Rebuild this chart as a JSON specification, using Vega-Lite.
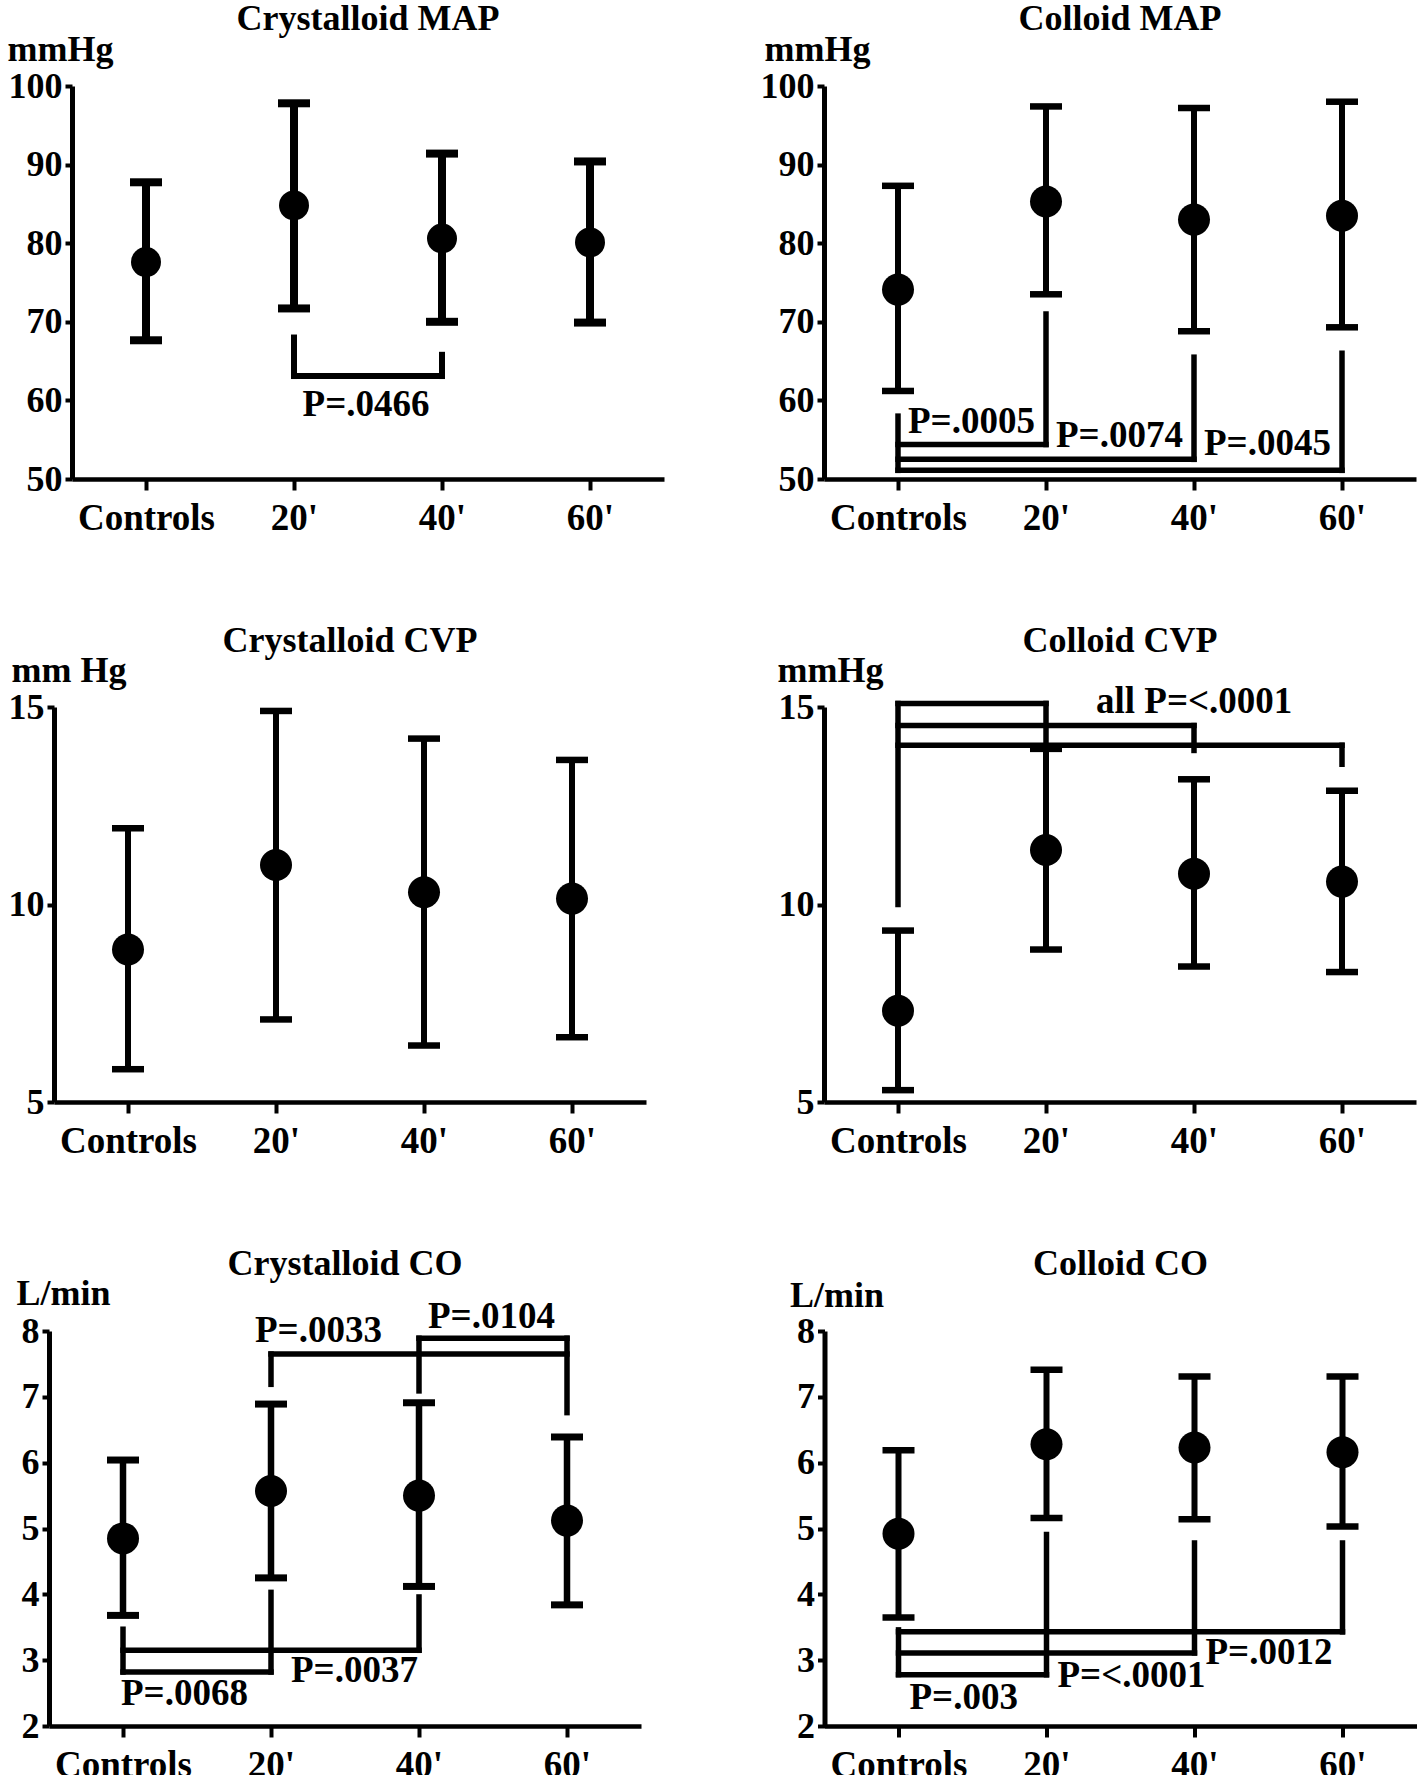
{
  "$schema": "https://vega.github.io/schema/vega-lite/v6.json",
  "padding": 0,
  "background": "white",
  "datasets": {
    "A_pts": [{"t":"Controls","m":77.6,"lo":67.65,"hi":87.75},{"t":"20'","m":84.8,"lo":71.7,"hi":97.8},{"t":"40'","m":80.6,"lo":70.0,"hi":91.4},{"t":"60'","m":80.1,"lo":69.9,"hi":90.4}],
    "A_seg": [{"t":"20'","t2":"20'","y":68.0,"y2":63.1},{"t":"20'","t2":"40'","y":63.1,"y2":63.1},{"t":"40'","t2":"40'","y":65.8,"y2":63.1}],
    "A_lab": [{"t":"20'","y":59.4,"txt":"P=.0466"}],
    "B_pts": [{"t":"Controls","m":74.1,"lo":61.2,"hi":87.3},{"t":"20'","m":85.3,"lo":73.5,"hi":97.4},{"t":"40'","m":83.0,"lo":68.8,"hi":97.2},{"t":"60'","m":83.5,"lo":69.3,"hi":98.0}],
    "B_seg": [{"t":"Controls","t2":"Controls","y":58.0,"y2":51.1},{"t":"20'","t2":"20'","y":71.0,"y2":54.4},{"t":"Controls","t2":"20'","y":54.4,"y2":54.4},{"t":"40'","t2":"40'","y":65.5,"y2":52.5},{"t":"Controls","t2":"40'","y":52.5,"y2":52.5},{"t":"60'","t2":"60'","y":66.0,"y2":51.1},{"t":"Controls","t2":"60'","y":51.1,"y2":51.1}],
    "B_lab": [{"t":"Controls","y":57.3,"txt":"P=.0005"},{"t":"20'","y":55.5,"txt":"P=.0074"},{"t":"40'","y":54.4,"txt":"P=.0045"}],
    "C_pts": [{"t":"Controls","m":8.86,"lo":5.83,"hi":11.93},{"t":"20'","m":11.0,"lo":7.09,"hi":14.9},{"t":"40'","m":10.31,"lo":6.43,"hi":14.2},{"t":"60'","m":10.15,"lo":6.64,"hi":13.66}],
    "D_pts": [{"t":"Controls","m":7.31,"lo":5.3,"hi":9.34},{"t":"20'","m":11.38,"lo":8.86,"hi":13.94},{"t":"40'","m":10.78,"lo":8.43,"hi":13.17},{"t":"60'","m":10.58,"lo":8.29,"hi":12.88}],
    "D_seg": [{"t":"Controls","t2":"Controls","y":10.0,"y2":15.09},{"t":"Controls","t2":"20'","y":15.09,"y2":15.09},{"t":"20'","t2":"20'","y":15.09,"y2":13.94},{"t":"Controls","t2":"40'","y":14.53,"y2":14.53},{"t":"40'","t2":"40'","y":14.53,"y2":13.9},{"t":"Controls","t2":"60'","y":14.03,"y2":14.03},{"t":"60'","t2":"60'","y":14.03,"y2":13.55}],
    "D_lab": [{"t":"20'","y":15.12,"txt":"all P=<.0001"}],
    "E_pts": [{"t":"Controls","m":4.85,"lo":3.68,"hi":6.04},{"t":"20'","m":5.57,"lo":4.25,"hi":6.89},{"t":"40'","m":5.5,"lo":4.12,"hi":6.91},{"t":"60'","m":5.12,"lo":3.84,"hi":6.39}],
    "E_seg": [{"t":"Controls","t2":"Controls","y":3.47,"y2":2.82},{"t":"Controls","t2":"20'","y":2.82,"y2":2.82},{"t":"20'","t2":"20'","y":2.82,"y2":4.03},{"t":"Controls","t2":"40'","y":3.15,"y2":3.15},{"t":"40'","t2":"40'","y":3.15,"y2":3.96},{"t":"20'","t2":"20'","y":7.19,"y2":7.65},{"t":"20'","t2":"60'","y":7.65,"y2":7.65},{"t":"40'","t2":"40'","y":7.09,"y2":7.89},{"t":"40'","t2":"60'","y":7.89,"y2":7.89},{"t":"60'","t2":"60'","y":6.76,"y2":7.89}],
    "E_lab": [{"k":1,"t":"Controls","y":2.49,"txt":"P=.0068"},{"k":2,"t":"20'","y":2.84,"txt":"P=.0037"},{"k":3,"t":"20'","y":8.0,"txt":"P=.0033"},{"k":4,"t":"40'","y":8.22,"txt":"P=.0104"}],
    "F_pts": [{"t":"Controls","m":4.92,"lo":3.65,"hi":6.19},{"t":"20'","m":6.28,"lo":5.16,"hi":7.41},{"t":"40'","m":6.23,"lo":5.14,"hi":7.31},{"t":"60'","m":6.16,"lo":5.03,"hi":7.31}],
    "F_seg": [{"t":"Controls","t2":"Controls","y":3.46,"y2":2.78},{"t":"Controls","t2":"20'","y":2.78,"y2":2.78},{"t":"20'","t2":"20'","y":2.78,"y2":4.91},{"t":"Controls","t2":"40'","y":3.11,"y2":3.11},{"t":"40'","t2":"40'","y":3.11,"y2":4.78},{"t":"Controls","t2":"60'","y":3.43,"y2":3.43},{"t":"60'","t2":"60'","y":3.43,"y2":4.78}],
    "F_lab": [{"t":"Controls","y":2.43,"txt":"P=.003"},{"t":"20'","y":2.76,"txt":"P=<.0001"},{"t":"40'","y":3.11,"txt":"P=.0012"}]
  },
  "config": {
    "view": {"stroke": null},
    "font": "Liberation Serif",
    "axis": {"labelFont": "Liberation Serif", "labelFontWeight": "bold", "labelColor": "black", "domainColor": "black", "tickColor": "black", "grid": false, "titleColor": "black", "titleFont": "Liberation Serif", "titleFontWeight": "bold", "titleFontSize": 36},
    "title": {"font": "Liberation Serif", "fontWeight": "bold", "color": "black", "fontSize": 36, "frame": "group", "anchor": "middle"},
    "text": {"font": "Liberation Serif", "fontWeight": "bold", "fontSize": 37, "color": "black", "baseline": "middle"}
  },
  "concat": [
    {
      "concat": [
        {
          "concat": [
            {"width": 1, "height": 1, "data": {"values": []}, "mark": "point"},
            {
              "width": 592, "height": 393,
              "title": {"text": "Crystalloid MAP", "offset": -6.5},
              "encoding": {"x": {"field": "t", "type": "nominal", "sort": ["Controls","20'","40'","60'"], "scale": {"type": "point", "padding": 0.5, "domain": ["Controls","20'","40'","60'"]}, "axis": {"title": null, "labelAngle": 0, "tickSize": 11, "tickWidth": 4, "labelPadding": 10, "labelFontSize": 37, "domainWidth": 4.5}}},
              "layer": [
                {"data": {"name": "A_pts"}, "mark": {"type": "rule", "strokeWidth": 8, "color": "black"}, "encoding": {"y": {"field": "lo", "type": "quantitative", "scale": {"domain": [50,100], "nice": false, "zero": false}, "axis": {"title": "mmHg", "titleAngle": 0, "titleAlign": "left", "titleBaseline": "middle", "titleX": -65, "titleY": -37, "values": [50,60,70,80,90,100], "format": "d", "tickSize": 7, "tickWidth": 4, "labelPadding": 3, "labelFontSize": 36, "domainWidth": 5, "minExtent": 71}}, "y2": {"field": "hi"}}},
                {"data": {"name": "A_pts"}, "mark": {"type": "tick", "orient": "horizontal", "size": 32, "thickness": 8, "color": "black", "opacity": 1}, "encoding": {"y": {"field": "lo", "type": "quantitative"}}},
                {"data": {"name": "A_pts"}, "mark": {"type": "tick", "orient": "horizontal", "size": 32, "thickness": 8, "color": "black", "opacity": 1}, "encoding": {"y": {"field": "hi", "type": "quantitative"}}},
                {"data": {"name": "A_pts"}, "mark": {"type": "point", "shape": "circle", "filled": true, "size": 900, "color": "black", "opacity": 1}, "encoding": {"y": {"field": "m", "type": "quantitative"}}},
                {"data": {"name": "A_seg"}, "mark": {"type": "rule", "strokeWidth": 6, "strokeCap": "square", "color": "black"}, "encoding": {"x2": {"field": "t2"}, "y": {"field": "y", "type": "quantitative"}, "y2": {"field": "y2"}}},
                {"data": {"name": "A_lab"}, "mark": {"type": "text", "align": "center", "dx": 72}, "encoding": {"y": {"field": "y", "type": "quantitative"}, "text": {"field": "txt"}}}
              ]
            }
          ],
          "columns": 2, "spacing": 0, "align": "none"
        },
        {
          "width": 592, "height": 393,
          "title": {"text": "Colloid MAP", "offset": -6.5},
          "encoding": {"x": {"field": "t", "type": "nominal", "sort": ["Controls","20'","40'","60'"], "scale": {"type": "point", "padding": 0.5, "domain": ["Controls","20'","40'","60'"]}, "axis": {"title": null, "labelAngle": 0, "tickSize": 11, "tickWidth": 4, "labelPadding": 10, "labelFontSize": 37, "domainWidth": 4.5}}},
          "layer": [
            {"data": {"name": "B_pts"}, "mark": {"type": "rule", "strokeWidth": 6, "color": "black"}, "encoding": {"y": {"field": "lo", "type": "quantitative", "scale": {"domain": [50,100], "nice": false, "zero": false}, "axis": {"title": "mmHg", "titleAngle": 0, "titleAlign": "left", "titleBaseline": "middle", "titleX": -60, "titleY": -37, "values": [50,60,70,80,90,100], "format": "d", "tickSize": 7, "tickWidth": 4, "labelPadding": 3, "labelFontSize": 36, "domainWidth": 5, "minExtent": 73}}, "y2": {"field": "hi"}}},
            {"data": {"name": "B_pts"}, "mark": {"type": "tick", "orient": "horizontal", "size": 32, "thickness": 6.5, "color": "black", "opacity": 1}, "encoding": {"y": {"field": "lo", "type": "quantitative"}}},
            {"data": {"name": "B_pts"}, "mark": {"type": "tick", "orient": "horizontal", "size": 32, "thickness": 6.5, "color": "black", "opacity": 1}, "encoding": {"y": {"field": "hi", "type": "quantitative"}}},
            {"data": {"name": "B_pts"}, "mark": {"type": "point", "shape": "circle", "filled": true, "size": 1024, "color": "black", "opacity": 1}, "encoding": {"y": {"field": "m", "type": "quantitative"}}},
            {"data": {"name": "B_seg"}, "mark": {"type": "rule", "strokeWidth": 5.5, "strokeCap": "square", "color": "black"}, "encoding": {"x2": {"field": "t2"}, "y": {"field": "y", "type": "quantitative"}, "y2": {"field": "y2"}}},
            {"data": {"name": "B_lab"}, "mark": {"type": "text", "align": "left", "dx": 10}, "encoding": {"y": {"field": "y", "type": "quantitative"}, "text": {"field": "txt"}}}
          ]
        }
      ],
      "columns": 2, "spacing": 87, "align": "none"
    },
    {
      "concat": [
        {
          "concat": [
            {"width": 1, "height": 1, "data": {"values": []}, "mark": "point"},
            {
              "width": 592, "height": 395,
              "title": {"text": "Crystalloid CVP", "offset": -7.5},
              "encoding": {"x": {"field": "t", "type": "nominal", "sort": ["Controls","20'","40'","60'"], "scale": {"type": "point", "padding": 0.5, "domain": ["Controls","20'","40'","60'"]}, "axis": {"title": null, "labelAngle": 0, "tickSize": 11, "tickWidth": 4, "labelPadding": 10, "labelFontSize": 37, "domainWidth": 4.5}}},
              "layer": [
                {"data": {"name": "C_pts"}, "mark": {"type": "rule", "strokeWidth": 6, "color": "black"}, "encoding": {"y": {"field": "lo", "type": "quantitative", "scale": {"domain": [5,15], "nice": false, "zero": false}, "axis": {"title": "mm Hg", "titleAngle": 0, "titleAlign": "left", "titleBaseline": "middle", "titleX": -43, "titleY": -37, "values": [5,10,15], "format": "d", "tickSize": 7, "tickWidth": 4, "labelPadding": 3, "labelFontSize": 36, "domainWidth": 5, "minExtent": 53}}, "y2": {"field": "hi"}}},
                {"data": {"name": "C_pts"}, "mark": {"type": "tick", "orient": "horizontal", "size": 32, "thickness": 6.5, "color": "black", "opacity": 1}, "encoding": {"y": {"field": "lo", "type": "quantitative"}}},
                {"data": {"name": "C_pts"}, "mark": {"type": "tick", "orient": "horizontal", "size": 32, "thickness": 6.5, "color": "black", "opacity": 1}, "encoding": {"y": {"field": "hi", "type": "quantitative"}}},
                {"data": {"name": "C_pts"}, "mark": {"type": "point", "shape": "circle", "filled": true, "size": 1024, "color": "black", "opacity": 1}, "encoding": {"y": {"field": "m", "type": "quantitative"}}}
              ]
            }
          ],
          "columns": 2, "spacing": 0, "align": "none"
        },
        {
          "width": 592, "height": 395,
          "title": {"text": "Colloid CVP", "offset": -7.5},
          "encoding": {"x": {"field": "t", "type": "nominal", "sort": ["Controls","20'","40'","60'"], "scale": {"type": "point", "padding": 0.5, "domain": ["Controls","20'","40'","60'"]}, "axis": {"title": null, "labelAngle": 0, "tickSize": 11, "tickWidth": 4, "labelPadding": 10, "labelFontSize": 37, "domainWidth": 4.5}}},
          "layer": [
            {"data": {"name": "D_pts"}, "mark": {"type": "rule", "strokeWidth": 6, "color": "black"}, "encoding": {"y": {"field": "lo", "type": "quantitative", "scale": {"domain": [5,15], "nice": false, "zero": false}, "axis": {"title": "mmHg", "titleAngle": 0, "titleAlign": "left", "titleBaseline": "middle", "titleX": -47, "titleY": -37, "values": [5,10,15], "format": "d", "tickSize": 7, "tickWidth": 4, "labelPadding": 3, "labelFontSize": 36, "domainWidth": 5, "minExtent": 73}}, "y2": {"field": "hi"}}},
            {"data": {"name": "D_pts"}, "mark": {"type": "tick", "orient": "horizontal", "size": 32, "thickness": 6.5, "color": "black", "opacity": 1}, "encoding": {"y": {"field": "lo", "type": "quantitative"}}},
            {"data": {"name": "D_pts"}, "mark": {"type": "tick", "orient": "horizontal", "size": 32, "thickness": 6.5, "color": "black", "opacity": 1}, "encoding": {"y": {"field": "hi", "type": "quantitative"}}},
            {"data": {"name": "D_pts"}, "mark": {"type": "point", "shape": "circle", "filled": true, "size": 1024, "color": "black", "opacity": 1}, "encoding": {"y": {"field": "m", "type": "quantitative"}}},
            {"data": {"name": "D_seg"}, "mark": {"type": "rule", "strokeWidth": 5.5, "strokeCap": "square", "color": "black"}, "encoding": {"x2": {"field": "t2"}, "y": {"field": "y", "type": "quantitative"}, "y2": {"field": "y2"}}},
            {"data": {"name": "D_lab"}, "mark": {"type": "text", "align": "left", "dx": 50}, "encoding": {"y": {"field": "y", "type": "quantitative"}, "text": {"field": "txt"}}}
          ]
        }
      ],
      "columns": 2, "spacing": 105, "align": "none"
    },
    {
      "concat": [
        {
          "concat": [
            {"width": 1, "height": 1, "data": {"values": []}, "mark": "point"},
            {
              "width": 592, "height": 395,
              "title": {"text": "Crystalloid CO", "offset": -7.5},
              "encoding": {"x": {"field": "t", "type": "nominal", "sort": ["Controls","20'","40'","60'"], "scale": {"type": "point", "padding": 0.5, "domain": ["Controls","20'","40'","60'"]}, "axis": {"title": null, "labelAngle": 0, "tickSize": 11, "tickWidth": 4, "labelPadding": 10, "labelFontSize": 37, "domainWidth": 4.5}}},
              "layer": [
                {"data": {"name": "E_pts"}, "mark": {"type": "rule", "strokeWidth": 6.5, "color": "black"}, "encoding": {"y": {"field": "lo", "type": "quantitative", "scale": {"domain": [2,8], "nice": false, "zero": false}, "axis": {"title": "L/min", "titleAngle": 0, "titleAlign": "left", "titleBaseline": "middle", "titleX": -33, "titleY": -38, "values": [2,3,4,5,6,7,8], "format": "d", "tickSize": 7, "tickWidth": 4, "labelPadding": 3, "labelFontSize": 36, "domainWidth": 5, "minExtent": 48}}, "y2": {"field": "hi"}}},
                {"data": {"name": "E_pts"}, "mark": {"type": "tick", "orient": "horizontal", "size": 32, "thickness": 7, "color": "black", "opacity": 1}, "encoding": {"y": {"field": "lo", "type": "quantitative"}}},
                {"data": {"name": "E_pts"}, "mark": {"type": "tick", "orient": "horizontal", "size": 32, "thickness": 7, "color": "black", "opacity": 1}, "encoding": {"y": {"field": "hi", "type": "quantitative"}}},
                {"data": {"name": "E_pts"}, "mark": {"type": "point", "shape": "circle", "filled": true, "size": 1024, "color": "black", "opacity": 1}, "encoding": {"y": {"field": "m", "type": "quantitative"}}},
                {"data": {"name": "E_seg"}, "mark": {"type": "rule", "strokeWidth": 5.5, "strokeCap": "square", "color": "black"}, "encoding": {"x2": {"field": "t2"}, "y": {"field": "y", "type": "quantitative"}, "y2": {"field": "y2"}}},
                {"data": {"name": "E_lab"}, "transform": [{"filter": "datum.k === 1"}], "mark": {"type": "text", "align": "left", "dx": -2}, "encoding": {"y": {"field": "y", "type": "quantitative"}, "text": {"field": "txt"}}},
                {"data": {"name": "E_lab"}, "transform": [{"filter": "datum.k === 2"}], "mark": {"type": "text", "align": "left", "dx": 20}, "encoding": {"y": {"field": "y", "type": "quantitative"}, "text": {"field": "txt"}}},
                {"data": {"name": "E_lab"}, "transform": [{"filter": "datum.k === 3"}], "mark": {"type": "text", "align": "left", "dx": -16}, "encoding": {"y": {"field": "y", "type": "quantitative"}, "text": {"field": "txt"}}},
                {"data": {"name": "E_lab"}, "transform": [{"filter": "datum.k === 4"}], "mark": {"type": "text", "align": "left", "dx": 9}, "encoding": {"y": {"field": "y", "type": "quantitative"}, "text": {"field": "txt"}}}
              ]
            }
          ],
          "columns": 2, "spacing": 0, "align": "none"
        },
        {
          "width": 592, "height": 395,
          "title": {"text": "Colloid CO", "offset": -5.5},
          "encoding": {"x": {"field": "t", "type": "nominal", "sort": ["Controls","20'","40'","60'"], "scale": {"type": "point", "padding": 0.5, "domain": ["Controls","20'","40'","60'"]}, "axis": {"title": null, "labelAngle": 0, "tickSize": 11, "tickWidth": 4, "labelPadding": 10, "labelFontSize": 37, "domainWidth": 4.5}}},
          "layer": [
            {"data": {"name": "F_pts"}, "mark": {"type": "rule", "strokeWidth": 6, "color": "black"}, "encoding": {"y": {"field": "lo", "type": "quantitative", "scale": {"domain": [2,8], "nice": false, "zero": false}, "axis": {"title": "L/min", "titleAngle": 0, "titleAlign": "left", "titleBaseline": "middle", "titleX": -35, "titleY": -36, "values": [2,3,4,5,6,7,8], "format": "d", "tickSize": 7, "tickWidth": 4, "labelPadding": 3, "labelFontSize": 36, "domainWidth": 5, "minExtent": 73}}, "y2": {"field": "hi"}}},
            {"data": {"name": "F_pts"}, "mark": {"type": "tick", "orient": "horizontal", "size": 32, "thickness": 6.5, "color": "black", "opacity": 1}, "encoding": {"y": {"field": "lo", "type": "quantitative"}}},
            {"data": {"name": "F_pts"}, "mark": {"type": "tick", "orient": "horizontal", "size": 32, "thickness": 6.5, "color": "black", "opacity": 1}, "encoding": {"y": {"field": "hi", "type": "quantitative"}}},
            {"data": {"name": "F_pts"}, "mark": {"type": "point", "shape": "circle", "filled": true, "size": 1024, "color": "black", "opacity": 1}, "encoding": {"y": {"field": "m", "type": "quantitative"}}},
            {"data": {"name": "F_seg"}, "mark": {"type": "rule", "strokeWidth": 5.5, "strokeCap": "square", "color": "black"}, "encoding": {"x2": {"field": "t2"}, "y": {"field": "y", "type": "quantitative"}, "y2": {"field": "y2"}}},
            {"data": {"name": "F_lab"}, "mark": {"type": "text", "align": "left", "dx": 11}, "encoding": {"y": {"field": "y", "type": "quantitative"}, "text": {"field": "txt"}}}
          ]
        }
      ],
      "columns": 2, "spacing": 110.5, "align": "none"
    }
  ],
  "columns": 1,
  "spacing": 86,
  "align": "none"
}
